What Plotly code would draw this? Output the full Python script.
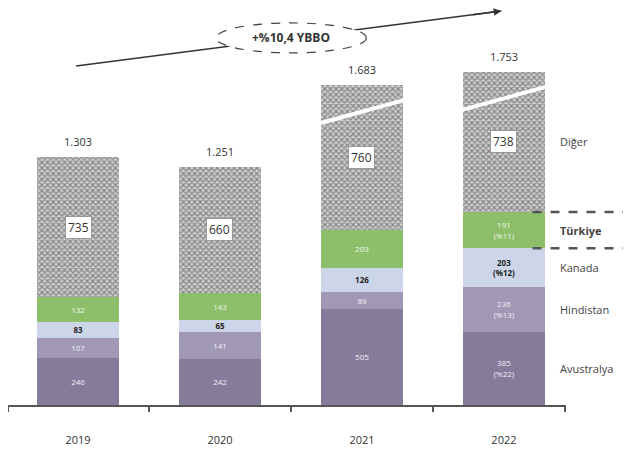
import plotly.graph_objects as go

years = ["2019", "2020", "2021", "2022"]
avustralya = [246, 242, 505, 385]
hindistan = [107, 141, 89, 236]
kanada = [83, 65, 126, 203]
turkiye = [132, 143, 203, 191]
diger = [735, 660, 760, 738]
totals = [1303, 1251, 1683, 1753]
pct_2022 = {"Avustralya": "%22", "Hindistan": "%13", "Kanada": "%12", "Türkiye": "%11"}

series = [
    ("Avustralya", avustralya, "#867b9b", "#f2eff7"),
    ("Hindistan", hindistan, "#a098b5", "#f2eff7"),
    ("Kanada", kanada, "#cdd6e9", "#222222"),
    ("Türkiye", turkiye, "#8dbf6b", "#eef6e6"),
]

x = list(range(len(years)))
fig = go.Figure()

def fmt(v):
    return f"{v:,}".replace(",", ".")

for name, vals, color, tcolor in series:
    texts = []
    for i, v in enumerate(vals):
        t = str(v)
        if i == 3:
            t = f"{v}<br>({pct_2022[name]})"
        if name == "Kanada":
            t = f"<b>{t}</b>"
        texts.append(t)
    fig.add_trace(go.Bar(
        x=x, y=vals, name=name, marker_color=color, width=0.58,
        marker_line_width=0, text=texts, textposition="inside",
        insidetextanchor="middle", textangle=0,
        textfont=dict(color=tcolor, size=11, family="Open Sans"),
    ))

fig.add_trace(go.Bar(
    x=x, y=diger, name="Diğer", width=0.58, marker_line_width=0,
    marker=dict(color="#cfcfcf",
                pattern=dict(shape="x", fgcolor="#3c3c3c", bgcolor="#cfcfcf",
                             size=4, solidity=0.5)),
))

base = [a + h + k + t for a, h, k, t in zip(avustralya, hindistan, kanada, turkiye)]

# Diğer values in white boxes
for i, v in enumerate(diger):
    fig.add_annotation(x=i, y=base[i] + v / 2, text=str(v), showarrow=False,
                       bgcolor="white", bordercolor="#999999", borderwidth=1,
                       borderpad=2, font=dict(size=12, color="#333333", family="Open Sans"))

# totals
for i, v in enumerate(totals):
    fig.add_annotation(x=i, y=v, text=fmt(v), showarrow=False, yanchor="bottom",
                       yshift=6, font=dict(size=11, color="#333333", family="Open Sans"))

# break marks on 2021 and 2022 bars
for i in (2, 3):
    top = totals[i]
    fig.add_shape(type="line", x0=i - 0.34, x1=i + 0.34, y0=top - 210, y1=top - 70,
                  line=dict(color="white", width=4))

# right-hand labels aligned with 2022 segments
cum = 0
for name, vals, _, _ in series:
    mid = cum + vals[3] / 2
    cum += vals[3]
    fig.add_annotation(x=0.985, xref="paper", y=mid, text=f"<b>{name}</b>" if name == "Türkiye" else name,
                       showarrow=False, xanchor="left",
                       font=dict(size=11, color="#444444", family="Open Sans"))
fig.add_annotation(x=0.985, xref="paper", y=cum + diger[3] / 2, text="Diğer",
                   showarrow=False, xanchor="left",
                   font=dict(size=11, color="#444444", family="Open Sans"))

# dashed lines around Türkiye segment
t_lo = avustralya[3] + hindistan[3] + kanada[3]
t_hi = t_lo + turkiye[3]
for yv in (t_lo, t_hi):
    fig.add_shape(type="line", xref="paper", x0=0.94, x1=1.15, y0=yv, y1=yv,
                  line=dict(color="#555555", width=2.5, dash="dash"))

# growth arrow: line first, ellipse on top hides the middle, arrowhead at the end
fig.add_shape(type="line", xref="paper", yref="paper", x0=0.122, y0=0.883,
              x1=0.884, y1=1.026, line=dict(color="#333333", width=1.5))
fig.add_shape(type="circle", xref="paper", yref="paper", x0=0.373, x1=0.642,
              y0=0.917, y1=0.995, fillcolor="white",
              line=dict(color="#444444", width=1.2, dash="dash"))
fig.add_annotation(xref="paper", yref="paper", x=0.884, y=1.026, ax=-30, ay=4,
                   showarrow=True, arrowhead=2, arrowsize=1, arrowwidth=1.5,
                   arrowcolor="#333333", text="")
fig.add_annotation(xref="paper", yref="paper", x=0.507, y=0.956, text="<b>+%10,4 YBBO</b>",
                   showarrow=False, xanchor="center", yanchor="middle",
                   font=dict(size=12, color="#333333", family="Open Sans"))

fig.update_layout(
    barmode="stack",
    width=631, height=459,
    margin=dict(l=0, r=73, t=13, b=62),
    plot_bgcolor="white", paper_bgcolor="white",
    showlegend=False,
    uniformtext=dict(minsize=8, mode="show"),
    xaxis=dict(range=[-0.493, 3.437], tickvals=x, ticktext=years, showline=True,
               linecolor="#555555", linewidth=1.5, showgrid=False, zeroline=False,
               tickfont=dict(size=11, color="#333333", family="Open Sans"),
               ticks="", ticklabelstandoff=24,
               minor=dict(tickvals=[-0.49, 0.5, 1.5, 2.5, 3.43], ticks="outside",
                          ticklen=5, tickcolor="#555555", tickwidth=1.5)),
    yaxis=dict(range=[0, 2020], visible=False),
)

fig.write_html("out.html")
